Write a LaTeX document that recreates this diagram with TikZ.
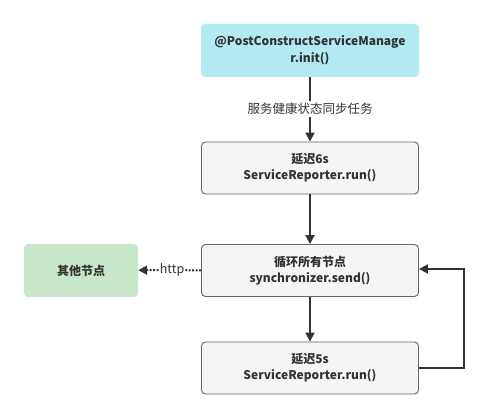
\documentclass[tikz,border=0pt]{standalone}
\usepackage{fontspec}
\setmainfont{Noto Sans CJK SC}
\usetikzlibrary{arrows.meta}
\definecolor{cyanfill}{HTML}{B1EBF1}
\definecolor{greenfill}{HTML}{C8E6C9}
\definecolor{grayfill}{HTML}{F5F5F5}
\definecolor{grayline}{HTML}{666666}
\definecolor{ink}{HTML}{333333}
\tikzset{
  box/.style={rounded corners=4pt, minimum width=217pt, minimum height=52pt, align=center, inner sep=0pt, font=\fontsize{12}{16}\selectfont\bfseries, text=ink},
  graybox/.style={box, draw=grayline, line width=0.9pt, fill=grayfill},
  conn/.style={draw=ink, line width=2pt, -{Triangle[length=9pt,width=9pt]}},
  lab/.style={font=\fontsize{12.5}{14}\selectfont, text=ink, fill=white, inner sep=2pt},
}
\begin{document}
\begin{tikzpicture}[x=1pt,y=-1pt]
\useasboundingbox (0,0) rectangle (500,419);
\node[box, fill=cyanfill, minimum width=218pt, minimum height=53pt, font=\fontsize{12}{17}\selectfont\bfseries] (init) at (310,50.5) {@PostConstructServiceManage\\r.init()};
\node[graybox] (d6) at (310,168) {延迟6s\\ServiceReporter.run()};
\node[graybox] (loop) at (310,270.5) {循环所有节点\\synchronizer.send()};
\node[graybox] (d5) at (310,368) {延迟5s\\ServiceReporter.run()};
\node[box, fill=greenfill, minimum width=114pt, minimum height=53pt] (other) at (81,270.5) {其他节点};
\node[lab] (lbl) at (310,109) {服务健康状态同步任务};
\draw[draw=ink, line width=2pt] (init) -- (lbl);
\draw[conn] (lbl) -- (d6);
\draw[conn] (d6) -- (loop);
\draw[conn] (loop) -- (d5);
\coordinate (c1) at (464,368);
\coordinate (c2) at (464,269);
\draw[conn] (d5.east) -- (c1) -- (c2) -- (loop.east |- c2);
\node[lab, inner sep=1pt] (http) at (172,270) {http};
\draw[draw=ink, line width=2pt, dash pattern=on 2pt off 1.5pt] (loop.west) -- (http);
\draw[conn, dash pattern=on 2pt off 1.5pt] (http) -- (other);
\end{tikzpicture}
\end{document}
